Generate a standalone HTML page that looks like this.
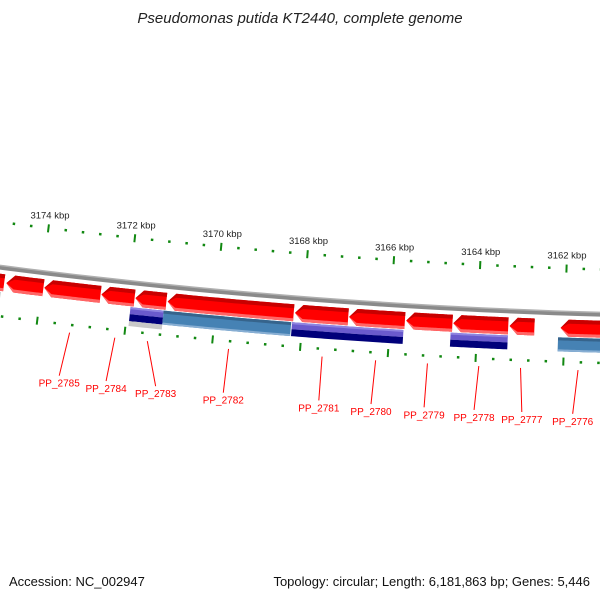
<!DOCTYPE html>
<html><head><meta charset="utf-8"><style>
html,body{margin:0;padding:0;background:#fff;}
svg{display:block;font-family:"Liberation Sans","DejaVu Sans",sans-serif;}
</style></head><body>
<svg id="map" width="600" height="600" viewBox="0 0 600 600">
<text x="300" y="23" text-anchor="middle" font-size="15" font-style="italic" fill="#222">Pseudomonas putida KT2440, complete genome</text>
<text x="9" y="586" font-size="13" fill="#111">Accession: NC_002947</text>
<text x="590" y="586" text-anchor="end" font-size="13" fill="#111">Topology: circular; Length: 6,181,863 bp; Genes: 5,446</text>
<g id="layer"></g>
</svg>
<script>
// data (kbp)
const majorTicks = [3176, 3174, 3172, 3170, 3168, 3166, 3164, 3162, 3160];
const tickLabels = ["3176 kbp","3174 kbp","3172 kbp","3170 kbp","3168 kbp","3166 kbp","3164 kbp","3162 kbp","3160 kbp"];
const fwdStarts = [3175.3, 3174.80, 3173.93, 3172.62, 3171.84, 3171.10, 3168.18, 3166.94, 3165.63, 3164.55, 3163.26, 3162.09];
const fwdEnds   = [3174.85, 3173.95, 3172.64, 3171.86, 3171.13, 3168.21, 3166.96, 3165.66, 3164.57, 3163.29, 3162.69, 3160.5];
const cdsStarts = [3175.3, 3171.93, 3171.17, 3168.23, 3164.60, 3162.14];
const cdsEnds   = [3174.9, 3171.17, 3168.25, 3165.68, 3163.29, 3160.5];
const cdsTypes  = ["grey","pair","steel","pair","pair","steel"];
const geneNames = ["PP_2785","PP_2784","PP_2783","PP_2782","PP_2781","PP_2780","PP_2779","PP_2778","PP_2777","PP_2776"];
const geneMids  = [3173.24, 3172.21, 3171.47, 3169.62, 3167.49, 3166.27, 3165.09, 3163.92, 3162.97, 3161.66];
const labelKbp  = [3173.36, 3172.30, 3171.18, 3169.65, 3167.49, 3166.31, 3165.11, 3163.98, 3162.9, 3161.75];

const CX=768, CY=-5683, R=6000;
const NS="http://www.w3.org/2000/svg";
const layer=document.getElementById('layer');
function kx(k){ return 43 + (3174 - k) * 43.5; }
function ang(k){ return Math.asin((kx(k)-CX)/R); }
function pt(k,off){ const a=ang(k), r=R-off; return [CX + r*Math.sin(a), CY + r*Math.cos(a)]; }
function band(k1,k2,o1,o2){
  const n=30; let p=[];
  for(let i=0;i<=n;i++){p.push(pt(k1+(k2-k1)*i/n,o1));}
  for(let i=n;i>=0;i--){p.push(pt(k1+(k2-k1)*i/n,o2));}
  return p;
}
function poly(p,fill){
  const e=document.createElementNS(NS,'polygon');
  e.setAttribute('points',p.map(q=>q[0].toFixed(2)+','+q[1].toFixed(2)).join(' '));
  e.setAttribute('fill',fill);
  layer.appendChild(e); return e;
}
function line(a,b,stroke,w){
  const e=document.createElementNS(NS,'line');
  e.setAttribute('x1',a[0]);e.setAttribute('y1',a[1]);e.setAttribute('x2',b[0]);e.setAttribute('y2',b[1]);
  e.setAttribute('stroke',stroke);e.setAttribute('stroke-width',w);
  layer.appendChild(e); return e;
}
let bb=poly(band(3176,3159.5,2,-2),'#8a8a8a');


let bb2=poly(band(3176,3159.5,3,1.5),'#b0b0b0');



majorTicks.forEach((k,i)=>{
  const t1=line(pt(k,41),pt(k,49),'#118811',2);
  
  
  const t2=line(pt(k,-44),pt(k,-52),'#118811',2);
  
  
  const p=pt(k,58);
  const tx=document.createElementNS(NS,'text');
  tx.setAttribute('x',p[0]);tx.setAttribute('y',p[1]+3);
  tx.setAttribute('text-anchor','middle');tx.setAttribute('font-size','9.5');tx.setAttribute('fill','#222');
  tx.textContent=tickLabels[i];
  
  
  layer.appendChild(tx);
  for(let j=1;j<5;j++){
    const m=k-0.4*j;
    const a=line(pt(m,44),pt(m,46.5),'#118811',2.5);
    
    
    const b=line(pt(m,-47),pt(m,-49.5),'#118811',2.5);
    
    
  }
});

fwdStarts.forEach((ks,i)=>{
  const ke=fwdEnds[i];
  const head=Math.min(0.18,(ks-ke)*0.4);
  const o1=-6,o2=-23,mid=(o1+o2)/2;
  const g=document.createElementNS(NS,'g');
  
  
  layer.appendChild(g);
  const shape=(a,b)=>{
    let p=[];const n=30;
    for(let t=0;t<=n;t++)p.push(pt(ks-head+((ke)-(ks-head))*t/n,a));
    for(let t=n;t>=0;t--)p.push(pt(ks-head+((ke)-(ks-head))*t/n,b));
    return p;
  };
  let body=shape(o1,o2);
  body.push(pt(ks,mid));
  g.appendChild(poly(body,'#ff0000'));
  const top=shape(o1,o1-4); top.push(pt(ks,mid)); g.appendChild(poly(top,'#c80000'));
  const bot=shape(o2+3,o2); bot.push(pt(ks,mid)); g.appendChild(poly(bot,'#ff6666'));
});

cdsStarts.forEach((ks,i)=>{
  const ke=cdsEnds[i], t=cdsTypes[i];
  const g=document.createElementNS(NS,'g');
  
  
  layer.appendChild(g);
  if(t==='pair'){
    g.appendChild(poly(band(ks,ke,-24,-31),'#6a5acd'));
    g.appendChild(poly(band(ks,ke,-24,-26),'#8f84e0'));
    g.appendChild(poly(band(ks,ke,-31,-38),'#00007a'));
  } else if(t==='steel'){
    g.appendChild(poly(band(ks,ke,-24,-38),'#4682b4'));
    g.appendChild(poly(band(ks,ke,-24,-27),'#36648c'));
    g.appendChild(poly(band(ks,ke,-36,-38),'#87aed3'));
  } else {
    g.appendChild(poly(band(ks,ke,-24,-38),'#c0c0c0'));
  }
});
{const e=poly(band(3171.93,3171.17,-38,-43),'#c8c8c8');

}

geneNames.forEach((nm,i)=>{
  const a=pt(geneMids[i],-56);
  const b=pt(labelKbp[i],-100);
  const l=line(a,b,'#ff0000',1);
  
  
  const tx=document.createElementNS(NS,'text');
  tx.setAttribute('x',b[0]);tx.setAttribute('y',b[1]+11);
  tx.setAttribute('text-anchor','middle');tx.setAttribute('font-size','10');tx.setAttribute('fill','#ff0000');
  tx.textContent=nm;
  
  
  layer.appendChild(tx);
});
</script>
</body></html>
